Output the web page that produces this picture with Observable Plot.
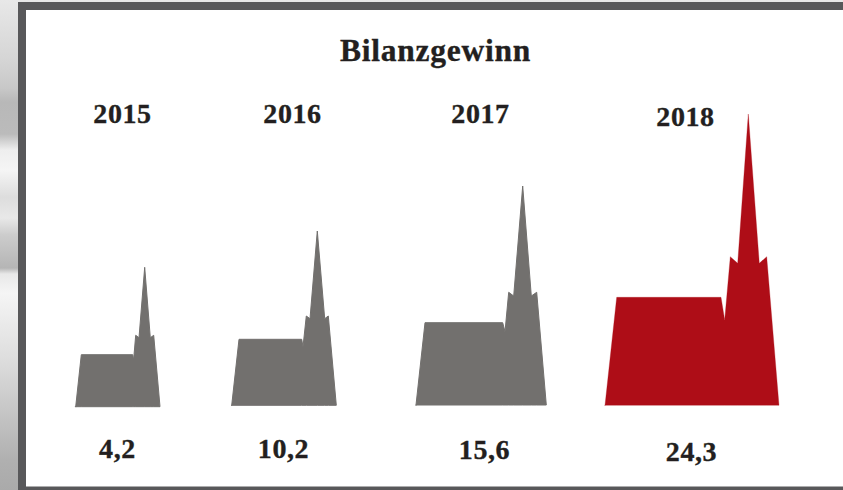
<!DOCTYPE html>
<html>
<head>
<meta charset="utf-8">
<script src="https://cdn.jsdelivr.net/npm/d3@7"></script>
<script src="https://cdn.jsdelivr.net/npm/@observablehq/plot@0.6"></script>
<style>
html,body{margin:0;padding:0;background:#fff;overflow:hidden}
.title text{letter-spacing:.75px;stroke:#231f20;stroke-width:.35px}
.labels text{letter-spacing:.6px;stroke:#231f20;stroke-width:.35px}
</style>
</head>
<body>
<div id="chart"></div>
<script>
const title = "Bilanzgewinn";
const years = ["2015", "2016", "2017", "2018"];
const values = ["4,2", "10,2", "15,6", "24,3"];
const yearX = [122, 292, 480, 685];
const yearY = [114, 114, 114, 117];
const valueX = [117, 283, 484, 691];
const valueY = [449, 449, 450, 452];
const colors = ["#72706e", "#72706e", "#72706e", "#ae0d17"];
const strokeWidths = [1, 1, 1, 0.3];

// silhouette outlines (left to right)
const outlineX = [
  [75.7, 81.3, 132.7, 133.6, 135.7, 139, 144.7, 150.3, 153.7, 160],
  [231.7, 239, 301.7, 303, 306.3, 310, 317.3, 324.7, 328.3, 336.3],
  [416, 425, 502.7, 505, 508.7, 513.7, 522.7, 531.3, 536.7, 546.3],
  [605, 616.7, 721, 724.7, 730.3, 737.7, 748.3, 759.3, 766.7, 779]
];
const outlineTop = [
  [406.7, 354.7, 354.7, 360, 335.3, 337.7, 267.3, 337.7, 335.3, 406.7],
  [405.3, 339.3, 339.3, 346.7, 316, 318.7, 231, 318.7, 316, 405.3],
  [405, 322.7, 322.7, 331.7, 292.3, 296, 186, 296, 292.3, 405],
  [405.3, 297.3, 297.3, 320, 256.7, 263.3, 114, 263.3, 256.7, 405.3]
];
const base = [406.7, 405.3, 405, 405.3];

const yearLabels = years.map((t, i) => ({t, x: yearX[i], y: yearY[i]}));
const valueLabels = values.map((t, i) => ({t, x: valueX[i], y: valueY[i]}));

const font = "Liberation Serif";
const ink = "#231f20";

const chart = Plot.plot({
  width: 843,
  height: 490,
  margin: 0,
  x: {domain: [0, 843], range: [0, 843], axis: null},
  y: {domain: [0, 490], range: [0, 490], axis: null},
  style: {
    display: "block",
    background: "linear-gradient(180deg,#e8e8e8 0,#d5d5d5 60px,#c8c8c8 88px,#b8b8b8 102px,#bbb 134px,#eee 150px,#f5f5f5 170px,#ddd 197px,#e8e8e8 218px,#ccc 235px,#b5b5b5 268px,#e8e8e8 274px,#f5f5f5 293px,#ddd 360px,#b0b0b0 460px,#aaa 490px)"
  },
  marks: [
    Plot.rect([{}], {x1: 18, x2: 843, y1: 2, y2: 490, fill: "#58585a"}),
    Plot.rect([{}], {x1: 26, x2: 843, y1: 10, y2: 486.5, fill: "#ffffff"}),
    ...years.map((year, i) => Plot.areaY(outlineX[i].map((x, j) => ({x, top: outlineTop[i][j]})), {
      x: "x", y1: () => base[i], y2: "top",
      fill: colors[i], stroke: colors[i], strokeWidth: strokeWidths[i], strokeLinejoin: "round", curve: "linear"
    })),
    Plot.text([title], {
      x: 435, y: 50, text: d => d, fontFamily: font, fontWeight: 700, fontSize: 31.5,
      fill: ink, className: "title"
    }),
    Plot.text(yearLabels, {
      x: "x", y: "y", text: "t", fontFamily: font, fontWeight: 700, fontSize: 28,
      fill: ink, className: "labels"
    }),
    Plot.text(valueLabels, {
      x: "x", y: "y", text: "t", fontFamily: font, fontWeight: 700, fontSize: 28,
      fill: ink, className: "labels"
    })
  ]
});
document.getElementById("chart").append(chart);
</script>
</body>
</html>
